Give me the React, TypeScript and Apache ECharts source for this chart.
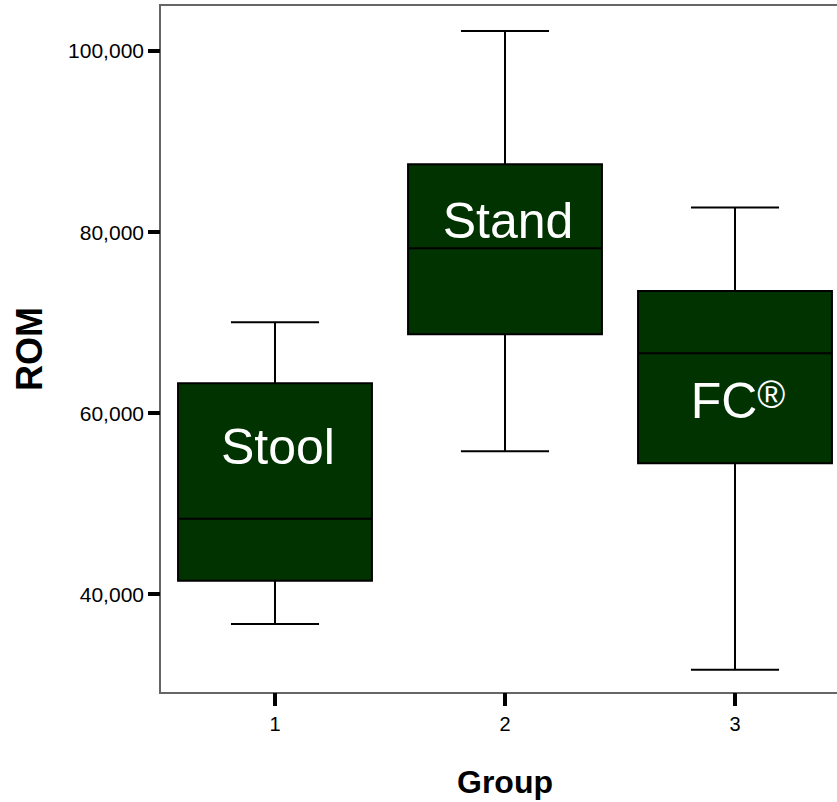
import React, { useEffect, useRef } from "react";
import * as echarts from "echarts";

const categories = ["1", "2", "3"];
// [min, Q1, median, Q3, max]
const boxStats = [
  [36690, 41470, 48320, 63290, 70030],
  [55780, 68700, 78200, 87480, 102210],
  [31640, 54460, 66600, 73480, 82700],
];
const boxLabels = ["Stool", "Stand", "FC®"];
const labelValues = [56250, 81180, 61320];
const yTickValues = [40000, 60000, 80000, 100000];
const yMin = 29070;
const yMax = 105080;

const FONT = 'Arial, "Liberation Sans", Helvetica, sans-serif';

function richLabel(t: string): string {
  if (t.endsWith("®")) return "{m|" + t.slice(0, -1) + "}{r|®}";
  return "{m|" + t + "}";
}

export default function App() {
  const ref = useRef<HTMLDivElement>(null);
  useEffect(() => {
    if (!ref.current) return;
    const chart = echarts.init(ref.current, null, { renderer: "svg" });
    const data = boxStats.map((s, i) => [i, ...s, labelValues[i]]);
    chart.setOption({
      animation: false,
      backgroundColor: "#fff",
      textStyle: { fontFamily: FONT },
      grid: {
        left: 160,
        top: 5,
        right: -13,
        bottom: 109,
        show: true,
        borderColor: "#666",
        borderWidth: 2,
        backgroundColor: "transparent",
        containLabel: false,
        outerBoundsMode: "none",
      },
      xAxis: {
        type: "category",
        data: categories,
        boundaryGap: true,
        name: "Group",
        nameLocation: "middle",
        nameGap: 73,
        nameTextStyle: { fontSize: 32, fontWeight: "bold", color: "#000", fontFamily: FONT },
        axisLine: { show: true, lineStyle: { color: "#666", width: 2 } },
        axisTick: { show: true, alignWithLabel: true, length: 13, lineStyle: { color: "#000", width: 4 } },
        axisLabel: { fontSize: 20, color: "#000", margin: 21, fontFamily: FONT },
        splitLine: { show: false },
      },
      yAxis: {
        type: "value",
        min: yMin,
        max: yMax,
        name: "ROM",
        nameLocation: "middle",
        nameGap: 113,
        nameRotate: 90,
        nameTextStyle: { fontSize: 36, fontWeight: "bold", color: "#000", fontFamily: FONT },
        axisLine: { show: true, lineStyle: { color: "#666", width: 2 } },
        axisTick: { show: true, length: 12, customValues: yTickValues, lineStyle: { color: "#000", width: 4 } },
        axisLabel: {
          fontSize: 21,
          color: "#000",
          margin: 16,
          fontFamily: FONT,
          customValues: yTickValues,
          formatter: (v: number) => v.toLocaleString("en-US"),
        },
        splitLine: { show: false },
      },
      series: [
        {
          type: "custom",
          clip: false,
          data,
          encode: { x: 0, y: [1, 2, 3, 4, 5] },
          renderItem: (params: any, api: any) => {
            const idx = api.value(0);
            const vMin = api.value(1);
            const q1 = api.value(2);
            const med = api.value(3);
            const q3 = api.value(4);
            const vMax = api.value(5);
            const lv = api.value(6);
            const band = api.size([1, 0])[0];
            const boxW = band * 0.843;
            const capW = band * 0.383;
            const pMin = api.coord([idx, vMin]);
            const pQ1 = api.coord([idx, q1]);
            const pMed = api.coord([idx, med]);
            const pQ3 = api.coord([idx, q3]);
            const pMax = api.coord([idx, vMax]);
            const pLab = api.coord([idx, lv]);
            const cx = pMed[0];
            const line = { stroke: "#000", lineWidth: 2 };
            return {
              type: "group",
              children: [
                { type: "line", shape: { x1: cx, y1: pMax[1], x2: cx, y2: pQ3[1] }, style: line },
                { type: "line", shape: { x1: cx, y1: pQ1[1], x2: cx, y2: pMin[1] }, style: line },
                { type: "line", shape: { x1: cx - capW / 2, y1: pMax[1], x2: cx + capW / 2, y2: pMax[1] }, style: line },
                { type: "line", shape: { x1: cx - capW / 2, y1: pMin[1], x2: cx + capW / 2, y2: pMin[1] }, style: line },
                {
                  type: "rect",
                  shape: { x: cx - boxW / 2, y: pQ3[1], width: boxW, height: pQ1[1] - pQ3[1] },
                  style: { fill: "#003300", stroke: "#000", lineWidth: 2 },
                },
                { type: "line", shape: { x1: cx - boxW / 2, y1: pMed[1], x2: cx + boxW / 2, y2: pMed[1] }, style: line },
                {
                  type: "text",
                  style: {
                    text: richLabel(boxLabels[params.dataIndex]),
                    x: cx + 3,
                    y: pLab[1],
                    align: "center",
                    verticalAlign: "middle",
                    fill: "#fff",
                    fontSize: 50,
                    fontFamily: FONT,
                    rich: {
                      m: { fontSize: 50, fill: "#fff", color: "#fff", fontFamily: FONT },
                      r: { fontSize: 38, fill: "#fff", color: "#fff", fontFamily: FONT, verticalAlign: "top" },
                    },
                  },
                },
              ],
            };
          },
        },
      ],
    });
    return () => chart.dispose();
  }, []);
  return (
    <div
      ref={ref}
      style={{ position: "fixed", left: 0, top: 0, width: 837, height: 802, background: "#fff" }}
    />
  );
}
